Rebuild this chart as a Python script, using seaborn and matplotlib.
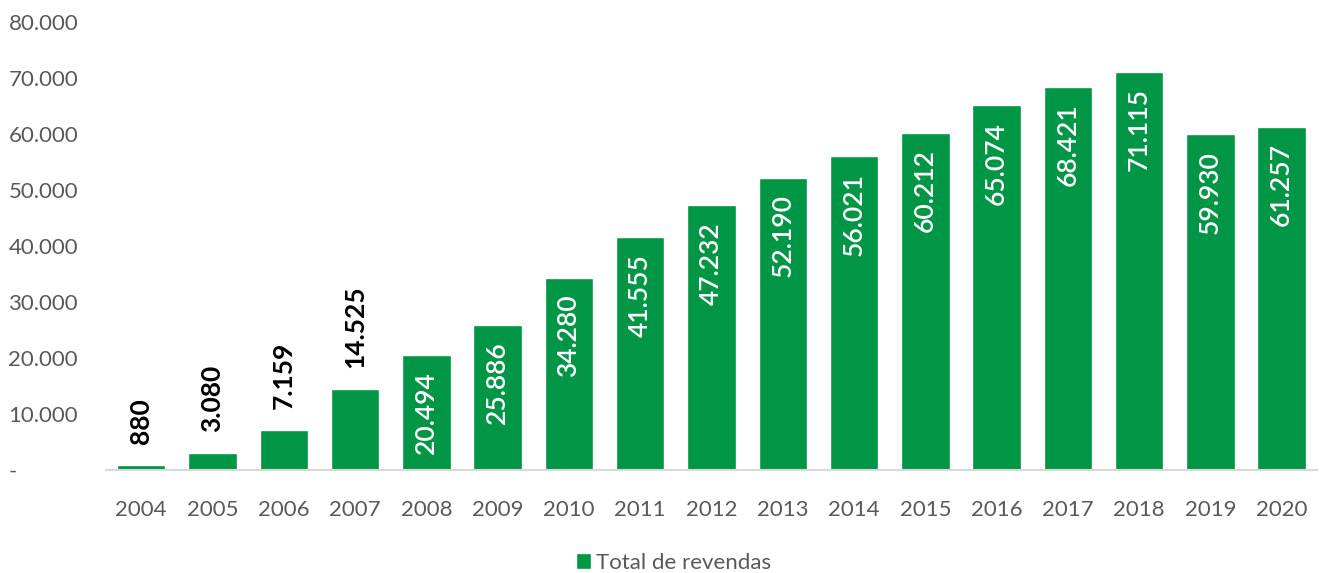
import seaborn as sns
import matplotlib.pyplot as plt
from matplotlib.ticker import FuncFormatter

anos = ["2004", "2005", "2006", "2007", "2008", "2009", "2010", "2011", "2012",
        "2013", "2014", "2015", "2016", "2017", "2018", "2019", "2020"]
revendas = [880, 3080, 7159, 14525, 20494, 25886, 34280, 41555, 47232,
            52190, 56021, 60212, 65074, 68421, 71115, 59930, 61257]
serie = "Total de revendas"

verde = "#009645"
cinza = "#595959"


def fmt_milhar(v):
    if v == 0:
        return "-"
    return f"{int(v):,}".replace(",", ".")


sns.set_theme(style="white")
plt.rcParams['font.family'] = ['Lato', 'DejaVu Sans']

fig = plt.figure(figsize=(13.2, 5.73), dpi=100)
ax = fig.add_axes([0.08, 0.18, 0.918, 0.782])

sns.barplot(x=anos, y=revendas, color=verde, width=0.68, saturation=1,
            label=serie, ax=ax)

# rotulos: brancos dentro das barras grandes, pretos acima das pequenas
for i, v in enumerate(revendas):
    if v >= 20000:
        ax.annotate(fmt_milhar(v), (i, v), xytext=(0, -12), textcoords="offset points",
                    rotation=90, ha="center", va="top", color="white",
                    fontsize=19, fontweight="semibold")
    else:
        ax.annotate(fmt_milhar(v), (i, v), xytext=(0, 15), textcoords="offset points",
                    rotation=90, ha="center", va="bottom", color="black",
                    fontsize=19, fontweight="bold")

ax.set_ylim(0, 80000)
ax.set_xlim(-0.5, len(anos) - 0.5)
ax.set_yticks(range(0, 80001, 10000))
ax.yaxis.set_major_formatter(FuncFormatter(lambda v, p: fmt_milhar(v)))
ax.tick_params(axis="both", colors=cinza, labelsize=16, length=0)
ax.tick_params(axis="x", pad=22)
for lab in ax.get_yticklabels():
    lab.set_horizontalalignment("left")
ax.yaxis.set_tick_params(pad=70)

for s in ["top", "right", "left"]:
    ax.spines[s].set_visible(False)
ax.spines["bottom"].set_color("#d9d9d9")
ax.spines["bottom"].set_linewidth(1.5)
ax.set_xlabel("")
ax.set_ylabel("")

if ax.get_legend():
    ax.get_legend().remove()
handles, labels = ax.get_legend_handles_labels()
fig.legend(handles[:1], labels[:1], loc="lower center", bbox_to_anchor=(0.51, -0.035),
           frameon=False, fontsize=16, labelcolor=cinza, handlelength=0.7,
           handleheight=0.7, handletextpad=0.2)

fig.savefig("out.png", dpi=100)
